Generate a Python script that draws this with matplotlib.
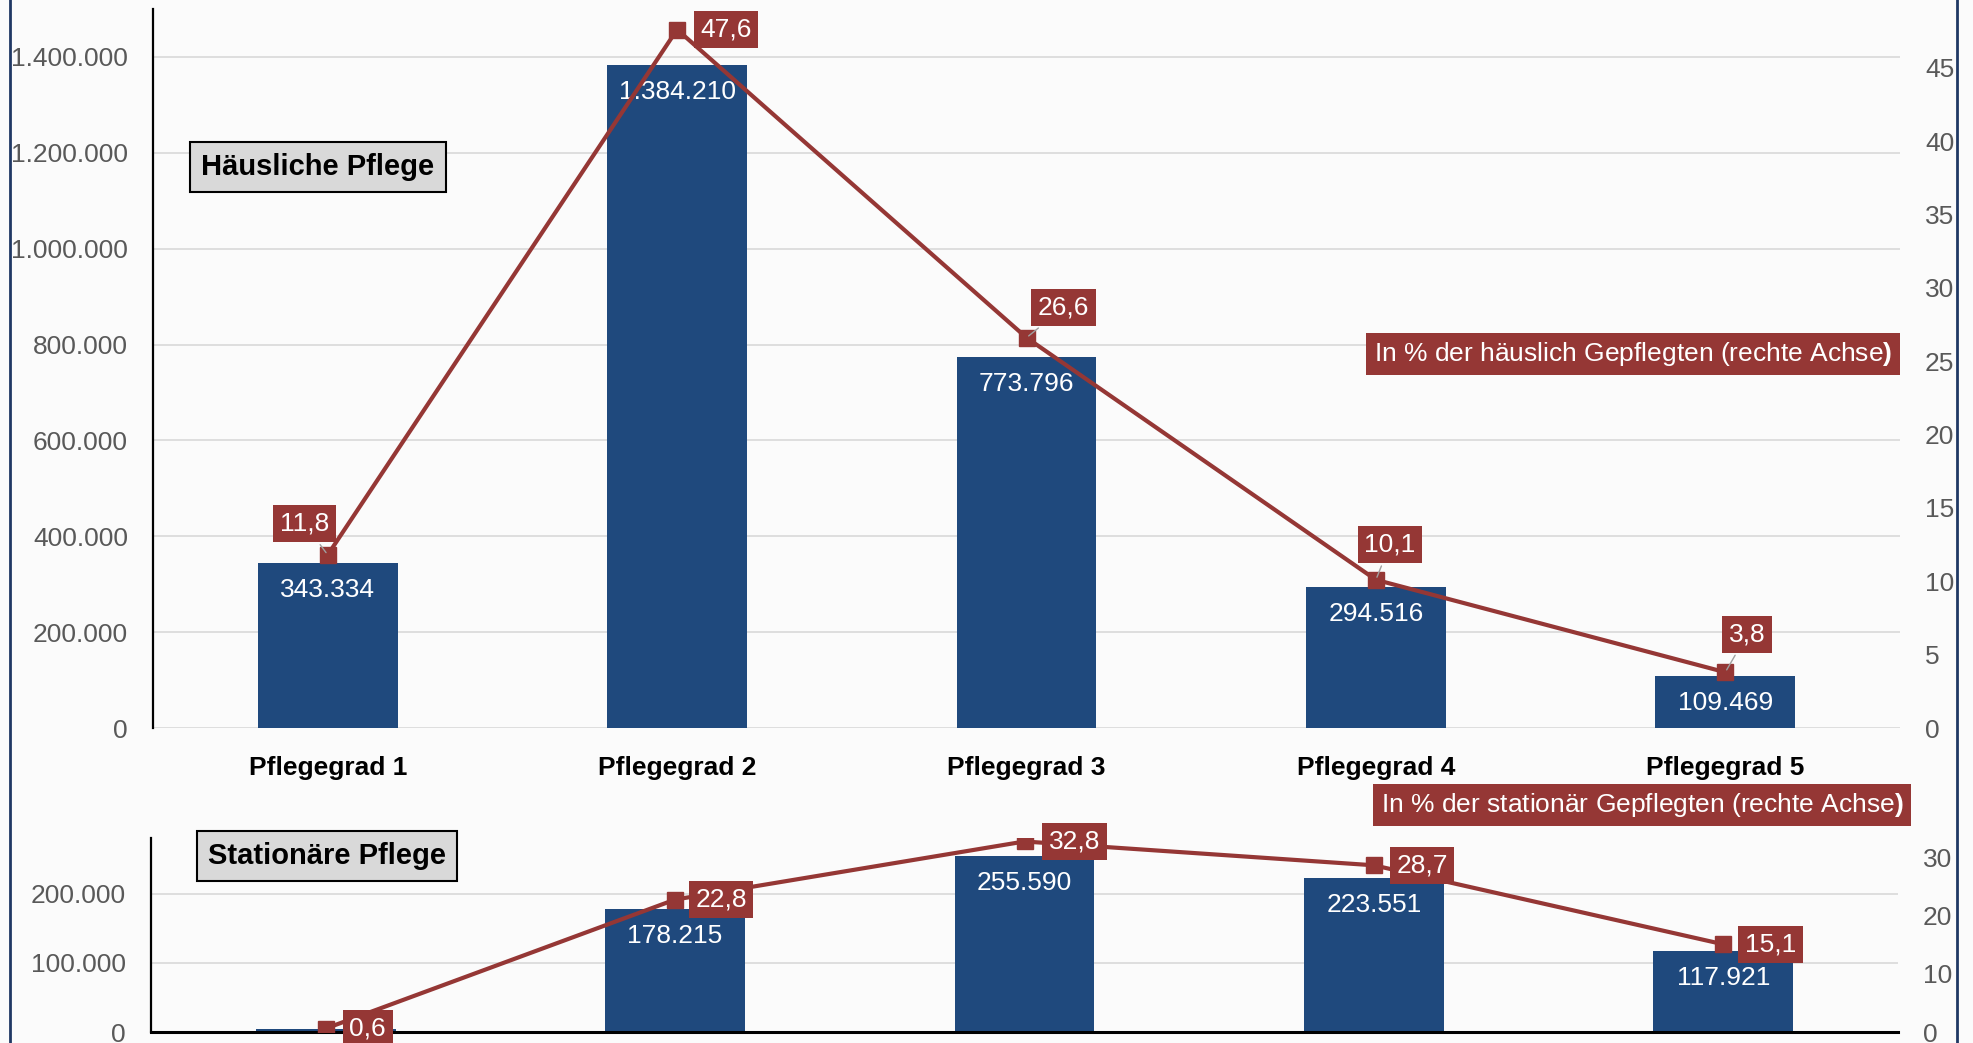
import numpy as np
import matplotlib.pyplot as plt

plt.rcParams['font.family'] = ['Liberation Sans', 'DejaVu Sans']
plt.rcParams['mathtext.fontset'] = 'custom'
plt.rcParams['mathtext.rm'] = 'Liberation Sans'
plt.rcParams['mathtext.bf'] = 'Liberation Sans:bold'

grade = ['Pflegegrad 1', 'Pflegegrad 2', 'Pflegegrad 3', 'Pflegegrad 4', 'Pflegegrad 5']
home_n = [343334, 1384210, 773796, 294516, 109469]
home_pct = [11.8, 47.6, 26.6, 10.1, 3.8]
inst_n = [4728, 178215, 255590, 223551, 117921]
inst_pct = [0.6, 22.8, 32.8, 28.7, 15.1]

# label box offsets in pixels (dx, dy)
home_off = [(-23, 31), (49, 0), (37, 30), (14, 35), (22, 38)]
inst_off = [(42, 0), (46, 0), (50, 0), (48, 0), (47, 0)]

BLUE = '#1f497d'
RED = '#953735'
GRID = '#d9d9d9'
TICK = '#595959'
W, H = 1973, 1043


def de_int(v):
    return f"{v:,}".replace(",", ".")


def de_pct(v):
    return f"{v:.1f}".replace(".", ",")


def panel(ax, axr, counts, pct, ylim, yticks, rlim, rticks, offs, bottom_spine):
    x = np.arange(len(grade))
    ax.bar(x, counts, width=0.4, color=BLUE, zorder=2)
    for xi, v in zip(x, counts):
        ax.annotate(de_int(v), (xi, v), xytext=(0, -27), textcoords='offset pixels',
                    ha='center', va='center', color='white', fontsize=19, zorder=3)
    ax.set_xlim(-0.5, 4.5)
    ax.set_ylim(*ylim)
    ax.set_yticks(yticks, [de_int(t) for t in yticks])
    ax.grid(axis='y', color=GRID, lw=1.2)
    ax.set_axisbelow(True)
    ax.tick_params(axis='y', length=0, pad=18, labelsize=19, labelcolor=TICK)
    for s in ['top', 'right']:
        ax.spines[s].set_visible(False)
    ax.spines['left'].set_color('black')
    ax.spines['left'].set_linewidth(1.6)
    if bottom_spine:
        ax.spines['bottom'].set_color('black')
        ax.spines['bottom'].set_linewidth(2.2)
    else:
        ax.spines['bottom'].set_visible(False)

    axr.plot(x, pct, color=RED, lw=3.0, marker='s', ms=11, zorder=4)
    axr.set_ylim(*rlim)
    axr.set_yticks(rticks)
    axr.tick_params(axis='y', length=0, pad=18, labelsize=19, labelcolor=TICK)
    for s in ['top', 'right', 'left', 'bottom']:
        axr.spines[s].set_visible(False)
    for xi, v, (dx, dy) in zip(x, pct, offs):
        axr.annotate(de_pct(v), (xi, v), xytext=(dx, dy), textcoords='offset pixels',
                     ha='center', va='center', color='white', fontsize=19, zorder=5,
                     bbox=dict(boxstyle='square,pad=0.25', fc=RED, ec='none'),
                     arrowprops=dict(arrowstyle='-', color='#a0a0a0', lw=1.0) if dy > 0 else None,
                     annotation_clip=False)


fig = plt.figure(figsize=(W / 100, H / 100), dpi=100, facecolor='#fbfbfb')

ax1 = fig.add_axes([153 / W, 1 - 728 / H, (1900 - 153) / W, (728 - 9) / H])
ax1.set_facecolor('none')
ax1r = ax1.twinx()
panel(ax1, ax1r, home_n, home_pct, (0, 1500000), list(range(0, 1400001, 200000)),
      (0, 49), list(range(0, 46, 5)), home_off, False)
ax1.set_xticks(np.arange(len(grade)), grade)
ax1.tick_params(axis='x', length=0, pad=20)
for lbl in ax1.get_xticklabels():
    lbl.set_fontsize(19)
    lbl.set_fontweight('bold')
    lbl.set_color('black')

ax2 = fig.add_axes([151 / W, 1 - 1032 / H, (1898 - 151) / W, (1032 - 838) / H])
ax2.set_facecolor('none')
ax2r = ax2.twinx()
panel(ax2, ax2r, inst_n, inst_pct, (0, 281000), [0, 100000, 200000],
      (0, 33.4), [0, 10, 20, 30], inst_off, True)
ax2.set_xticks([])

# panel titles
fig.text(318 / W, 1 - 167 / H, 'Häusliche Pflege', ha='center', va='center',
         fontsize=21, fontweight='bold', color='black',
         bbox=dict(boxstyle='square,pad=0.38', fc='#d9d9d9', ec='black', lw=1.5))
fig.text(327 / W, 1 - 856 / H, 'Stationäre Pflege', ha='center', va='center',
         fontsize=21, fontweight='bold', color='black',
         bbox=dict(boxstyle='square,pad=0.38', fc='#d9d9d9', ec='black', lw=1.5))

# series notes
fig.text(1633 / W, 1 - 354 / H, r'In % der häuslich Gepflegten (rechte Achse$\mathbf{)}$',
         ha='center', va='center', fontsize=19, color='white',
         bbox=dict(boxstyle='square,pad=0.28', fc=RED, ec='none'))
fig.text(1642 / W, 1 - 805 / H, r'In % der stationär Gepflegten (rechte Achse$\mathbf{)}$',
         ha='center', va='center', fontsize=19, color='white',
         bbox=dict(boxstyle='square,pad=0.28', fc=RED, ec='none'))

# outer frame
for xf in (10 / W, 1957 / W):
    fig.add_artist(plt.Line2D([xf, xf], [0, 1], color='#203864', lw=2, transform=fig.transFigure))

fig.savefig('out.png', dpi=100, facecolor=fig.get_facecolor())
